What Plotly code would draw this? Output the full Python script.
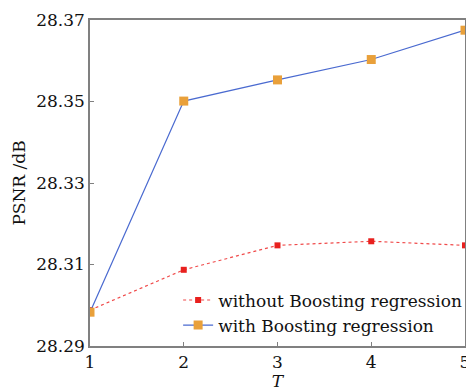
import plotly.graph_objects as go

T = [1, 2, 3, 4, 5]
without_boost = [28.2988, 28.3087, 28.3147, 28.3157, 28.3147]
with_boost = [28.2983, 28.3501, 28.3553, 28.3603, 28.3675]
y_ticks = [28.29, 28.31, 28.33, 28.35, 28.37]

font_family = "DejaVu Serif, serif"

fig = go.Figure()
fig.add_trace(go.Scatter(
    x=T, y=without_boost, mode="lines+markers",
    name="without Boosting regression",
    line=dict(color="#f04a4a", width=1.2, dash="dot"),
    marker=dict(symbol="square", size=6, color="#e8201e"),
))
fig.add_trace(go.Scatter(
    x=T, y=with_boost, mode="lines+markers",
    name="with Boosting regression",
    line=dict(color="#4a6ad0", width=1.2),
    marker=dict(symbol="square", size=9, color="#e9a03a"),
))

axis_common = dict(
    showgrid=False, zeroline=False, showline=True, linecolor="#808080",
    linewidth=1.5, mirror=True, ticks="inside", ticklen=4, tickcolor="#808080",
    tickfont=dict(family=font_family, size=17, color="#111"),
)
fig.update_xaxes(range=[1, 5], tickvals=T, title=dict(text="<i>T</i>", standoff=0,
                 font=dict(family=font_family, size=17, color="#111")), **axis_common)
fig.update_yaxes(range=[28.29, 28.37], tickvals=y_ticks, tickformat=".2f",
                 title=dict(text="PSNR /dB", standoff=6,
                            font=dict(family=font_family, size=17, color="#111")),
                 **axis_common)

fig.update_layout(
    width=466, height=383,
    margin=dict(l=82, r=9, t=12, b=45, autoexpand=False),
    paper_bgcolor="white", plot_bgcolor="white",
    legend=dict(x=0.235, y=0.195, xanchor="left", yanchor="top",
                bgcolor="rgba(0,0,0,0)", borderwidth=0, tracegroupgap=0,
                font=dict(family=font_family, size=17, color="#111")),
    showlegend=True,
)
fig.write_html("out.html")
